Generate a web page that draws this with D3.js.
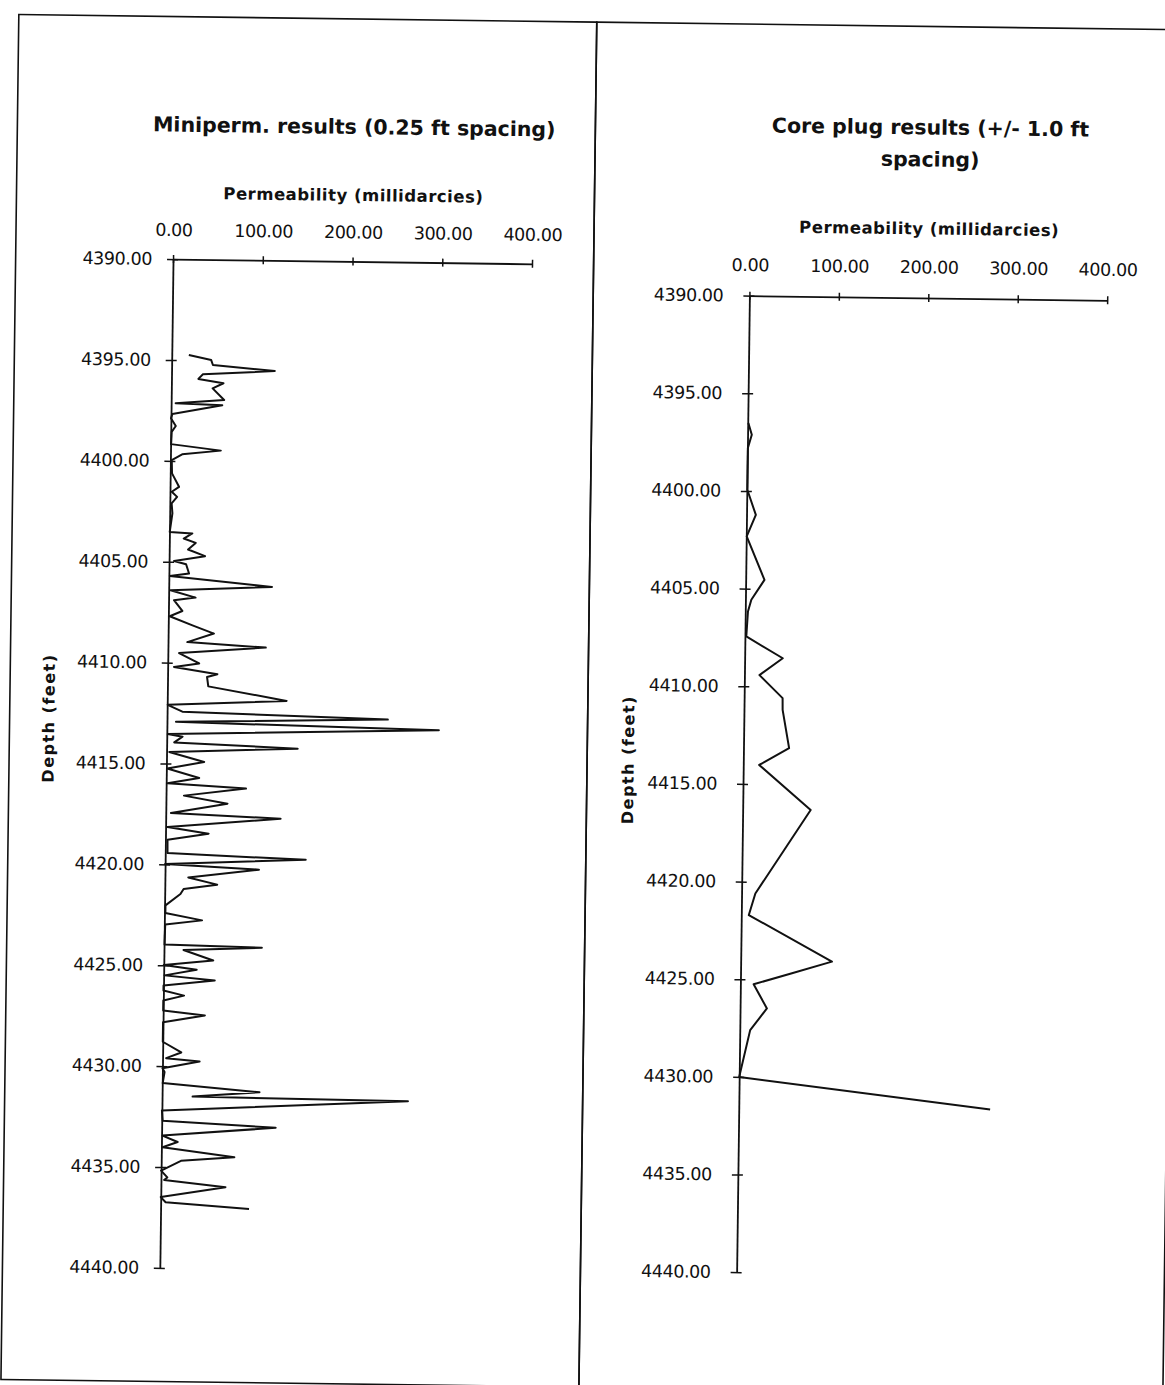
<!DOCTYPE html>
<html>
<head>
<meta charset="utf-8">
<script src="https://cdn.jsdelivr.net/npm/d3@7"></script>
<style>
  html, body { margin: 0; padding: 0; background: #fff; }
  svg { display: block; }
  text { font-family: "DejaVu Sans", "Liberation Sans", sans-serif; fill: #111; }
</style>
</head>
<body>
<svg id="chart" width="1165" height="1385"></svg>
<script>
// ---------- DATA ----------
// Miniperm. results (0.25 ft spacing): depth (feet) and permeability (millidarcies)
const miniDepth = [4394.74, 4394.98, 4395.22, 4395.48, 4395.69, 4395.92, 4396.12, 4396.38, 4396.95, 4397.14,
  4397.21, 4397.68, 4397.89, 4398.27, 4398.56, 4399.17, 4399.46, 4399.67, 4399.96, 4400.62,
  4401.28, 4401.53, 4401.78, 4402.11, 4402.6, 4403.52, 4403.58, 4403.84, 4404.05, 4404.38,
  4404.70, 4404.96, 4405.11, 4405.57, 4405.71, 4406.18, 4406.41, 4406.76, 4406.9, 4407.43,
  4407.70, 4408.14, 4408.53, 4408.97, 4409.19, 4409.52, 4410.02, 4410.21, 4410.54, 4410.69,
  4411.15, 4411.82, 4412.09, 4412.42, 4412.68, 4412.93, 4413.17, 4413.54, 4413.66, 4413.95,
  4414.18, 4414.43, 4414.9, 4415.25, 4415.70, 4415.98, 4416.19, 4416.58, 4416.95, 4417.45,
  4417.66, 4418.15, 4418.45, 4418.78, 4419.44, 4419.68, 4419.98, 4420.20, 4420.63, 4420.97,
  4421.21, 4421.46, 4422.03, 4422.41, 4422.75, 4422.98, 4423.97, 4424.07, 4424.23, 4424.73,
  4424.99, 4425.2, 4425.5, 4425.72, 4426.0, 4426.25, 4426.49, 4426.75, 4427.24, 4427.46,
  4427.82, 4428.79, 4429.31, 4429.6, 4429.75, 4430.1, 4430.29, 4430.84, 4431.23, 4431.49,
  4431.58, 4432.2, 4432.7, 4432.98, 4433.44, 4433.75, 4434.02, 4434.47, 4434.68, 4435.18,
  4435.51, 4435.64, 4435.96, 4436.49, 4436.74, 4437.02];
const miniPerm = [19, 44, 46, 115, 35, 30, 58, 46, 59, 5,
  57, 1.5, 0, 5.5, 1, 0.5, 56, 13, 1.5, 2,
  10, 2, 8, 2, 3, 0.3, 25.5, 16, 29.4, 21,
  40, 5.5, 19, 22.4, 1, 115, 2, 30, 6, 15.5,
  1.5, 27, 51, 21.5, 109, 12.5, 35, 7, 55.5, 44,
  45.5, 133, 0.5, 17, 246, 10, 303, 1, 17.6, 8.4,
  146, 3, 42, 1, 36.7, 1.5, 89, 20, 68.6, 5.7,
  128, 2, 48, 2.3, 2.5, 156.6, 0, 104.6, 26, 58.3,
  21, 17.5, 1, 1, 42, 1, 0.5, 109, 21.7, 55,
  0, 36.7, 1, 57, 0, 0, 23, 0, 0, 46.5,
  0, 0, 20.7, 4, 41.3, 0, 2.4, 0.5, 108.5, 34,
  274, 0, 1, 127, 1, 18, 1.3, 81.4, 22, 0,
  7, 3.5, 72, 0, 5.5, 98.5];

// Core plug results (+/- 1.0 ft spacing)
const coreDepth = [4396.52, 4397.12, 4397.8, 4399.94, 4401.22, 4402.33, 4404.54, 4405.57, 4406.17, 4407.45,
  4408.54, 4409.42, 4410.58, 4411.18, 4413.14, 4414.02, 4416.29, 4420.6, 4421.71, 4424.04,
  4424.66, 4425.25, 4426.48, 4427.6, 4430.01, 4431.5];
const corePerm = [0.7, 4.7, 0.5, 0.5, 10.4, 0.5, 21, 6.6, 3, 1.5,
  42.6, 16.8, 43, 43.2, 51, 17.8, 76, 15.4, 8.4, 102,
  57.5, 14.8, 30, 11.6, 0, 281];

const permTicks = [0, 100, 200, 300, 400];
const depthTicks = [4390, 4395, 4400, 4405, 4410, 4415, 4420, 4425, 4430, 4435, 4440];
const leftTitle = ["Miniperm. results (0.25 ft spacing)"];
const rightTitle = ["Core plug results (+/- 1.0 ft", "spacing)"];
const xTitle = "Permeability (millidarcies)";
const yTitle = "Depth (feet)";

// ---------- DRAW ----------
const svg = d3.select("#chart");
svg.append("rect").attr("width", 1165).attr("height", 1385).attr("fill", "#fff");

// the scanned page is slightly rotated
const g = svg.append("g").attr("transform", "rotate(0.75,582.5,692.5)");

// frame
const frame = g.append("g").attr("fill", "none").attr("stroke", "#111").attr("stroke-width", 1.6);
frame.append("rect").attr("x", 10).attr("y", 22).attr("width", 578).attr("height", 1365);
frame.append("rect").attr("x", 588).attr("y", 22).attr("width", 584).attr("height", 1368);

const fmt = d3.format(".2f");

function panel(cfg) {
  const x = d3.scaleLinear().domain([0, 400]).range(cfg.xr);
  const y = d3.scaleLinear().domain([4390, 4440]).range(cfg.yr);
  const p = g.append("g");

  // x axis (top)
  const xa = p.append("g").attr("transform", `translate(0,${cfg.yr[0]})`)
    .call(d3.axisTop(x).tickValues(permTicks).tickFormat(fmt).tickSize(4).tickSizeOuter(0).tickPadding(cfg.xPad));
  xa.selectAll(".tick line").attr("y1", 4);
  // y axis (left)
  const ya = p.append("g").attr("transform", `translate(${cfg.xr[0]},0)`)
    .call(d3.axisLeft(y).tickValues(depthTicks).tickFormat(fmt).tickSize(6).tickSizeOuter(0).tickPadding(cfg.yPad));
  ya.selectAll(".tick line").attr("x1", 5);

  [xa, ya].forEach(a => {
    a.select(".domain").attr("stroke", "#111").attr("stroke-width", 1.8);
    a.selectAll(".tick line").attr("stroke", "#111").attr("stroke-width", 1.5);
    a.selectAll(".tick text").attr("font-family", "DejaVu Sans").attr("font-size", 17.5)
      .attr("letter-spacing", -0.4).attr("fill", "#111");
  });

  // titles
  const tx = (cfg.xr[0] + cfg.xr[1]) / 2;
  cfg.title.forEach((t, i) => {
    p.append("text").attr("x", tx).attr("y", cfg.titleY + i * 32).attr("text-anchor", "middle")
      .attr("font-size", 20.5).attr("font-weight", "bold").text(t);
  });
  p.append("text").attr("x", tx).attr("y", cfg.xTitleY).attr("text-anchor", "middle")
    .attr("font-size", 16.5).attr("font-weight", "bold").attr("letter-spacing", 0.5).text(xTitle);
  p.append("text").attr("transform", `translate(${cfg.yTitle[0]},${cfg.yTitle[1]}) rotate(-90)`)
    .attr("text-anchor", "middle").attr("dy", "0.35em")
    .attr("font-size", 16).attr("font-weight", "bold").attr("letter-spacing", 1.5).text(yTitle);

  // data line
  const pts = cfg.depth.map((d, i) => [cfg.perm[i], d]);
  p.append("path").datum(pts)
    .attr("fill", "none").attr("stroke", "#111").attr("stroke-width", 2).attr("stroke-linejoin", "round")
    .attr("d", d3.line().x(d => x(d[0])).y(d => y(d[1])));
}

panel({
  xr: [167.4, 526.4], yr: [264.5, 1273.4], xPad: 19, yPad: 15,
  title: leftTitle, titleY: 137, xTitleY: 204, yTitle: [49, 725],
  depth: miniDepth, perm: miniPerm
});
panel({
  xr: [744.2, 1102], yr: [293.5, 1270.1], xPad: 20.5, yPad: 20,
  title: rightTitle, titleY: 130, xTitleY: 230, yTitle: [629, 759],
  depth: coreDepth, perm: corePerm
});
</script>
</body>
</html>
